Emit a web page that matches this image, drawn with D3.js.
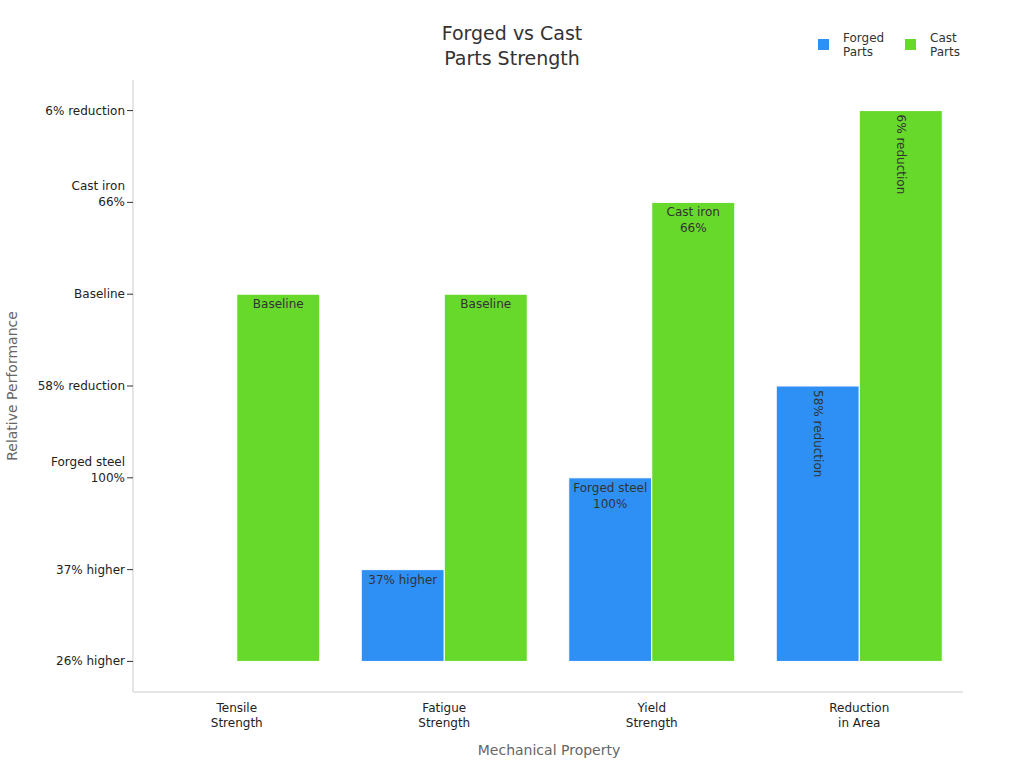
<!DOCTYPE html><html><head><meta charset="utf-8"><script src="https://cdn.jsdelivr.net/npm/d3@7"></script>
<style>body{margin:0;background:#fff;font-family:"DejaVu Sans",sans-serif}</style></head><body><svg id="c" width="1024" height="768"></svg>
<script>
const categories=["Tensile\nStrength","Fatigue\nStrength","Yield\nStrength","Reduction\nin Area"];
const yLevels=["26% higher","37% higher","Forged steel\n100%","58% reduction","Baseline","Cast iron\n66%","6% reduction"];
const seriesNames=["Forged\nParts","Cast\nParts"];
const forged=["26% higher","37% higher","Forged steel\n100%","58% reduction"];
const cast=["Baseline","Baseline","Cast iron\n66%","6% reduction"];
const colors=["#2e8ff5","#66d92a"];
const svg=d3.select("#c");
const L=133,R=963,T=80,B=692;
const x=d3.scaleBand().domain(categories).range([L,R]).paddingInner(0.2).paddingOuter(0.1);
const xs=d3.scaleBand().domain([0,1]).range([0,x.bandwidth()]);
const y=d3.scalePoint().domain(yLevels).range([B,T]).padding(0.333);
const base=y(yLevels[0]);
function ml(sel,text,lh){text.split("\n").forEach((t,i)=>sel.append("tspan").attr("x",sel.attr("x")).attr("dy",i?lh:0).text(t));}
// axes
svg.append("line").attr("x1",L).attr("x2",L).attr("y1",T).attr("y2",B).attr("stroke","#ccc");
svg.append("line").attr("x1",L).attr("x2",R).attr("y1",B).attr("y2",B).attr("stroke","#ccc");
yLevels.forEach(v=>{const yy=y(v);
 svg.append("line").attr("x1",L-6).attr("x2",L).attr("y1",yy).attr("y2",yy).attr("stroke","#333");
 const lines=v.split("\n");
 const t=svg.append("text").attr("x",L-8).attr("y",yy+4-(lines.length-1)*16).attr("text-anchor","end").attr("font-size",12).attr("fill","#222");
 ml(t,v,16);});
categories.forEach(c=>{const t=svg.append("text").attr("x",x(c)+x.bandwidth()/2).attr("y",712).attr("text-anchor","middle").attr("font-size",12).attr("fill","#222");ml(t,c,15);});
svg.append("text").attr("x",549).attr("y",755).attr("text-anchor","middle").attr("font-size",14).attr("fill","#666").text("Mechanical Property");
svg.append("text").attr("transform","translate(17,386) rotate(-90)").attr("text-anchor","middle").attr("font-size",14).attr("fill","#666").text("Relative Performance");
const title=svg.append("text").attr("x",512).attr("y",40).attr("text-anchor","middle").attr("font-size",19).attr("fill","#333");
ml(title,"Forged vs Cast\nParts Strength",25);
// bars
[forged,cast].forEach((s,si)=>{s.forEach((v,i)=>{const c=categories[i];const bx=x(c)+xs(si),bw=xs.bandwidth();const top=y(v);
 if(base-top<=0)return;
 svg.append("rect").attr("x",bx).attr("y",top).attr("width",bw).attr("height",base-top).attr("fill",colors[si]).attr("stroke","#fff").attr("stroke-width",1);
 if(i===3){svg.append("text").attr("transform",`translate(${bx+bw/2-4},${top+4}) rotate(90)`).attr("font-size",12).attr("fill","#333").text(v.replace("\n"," "));}
 else{const t=svg.append("text").attr("x",bx+bw/2).attr("y",top+14).attr("text-anchor","middle").attr("font-size",12).attr("fill","#333");ml(t,v,16);}
});});
// legend
seriesNames.forEach((n,i)=>{const lx=818+i*87;
 svg.append("rect").attr("x",lx).attr("y",39).attr("width",11).attr("height",11).attr("fill",colors[i]);
 const t=svg.append("text").attr("x",lx+25).attr("y",42).attr("font-size",12).attr("fill","#333");ml(t,n,14);});
</script></body></html>
